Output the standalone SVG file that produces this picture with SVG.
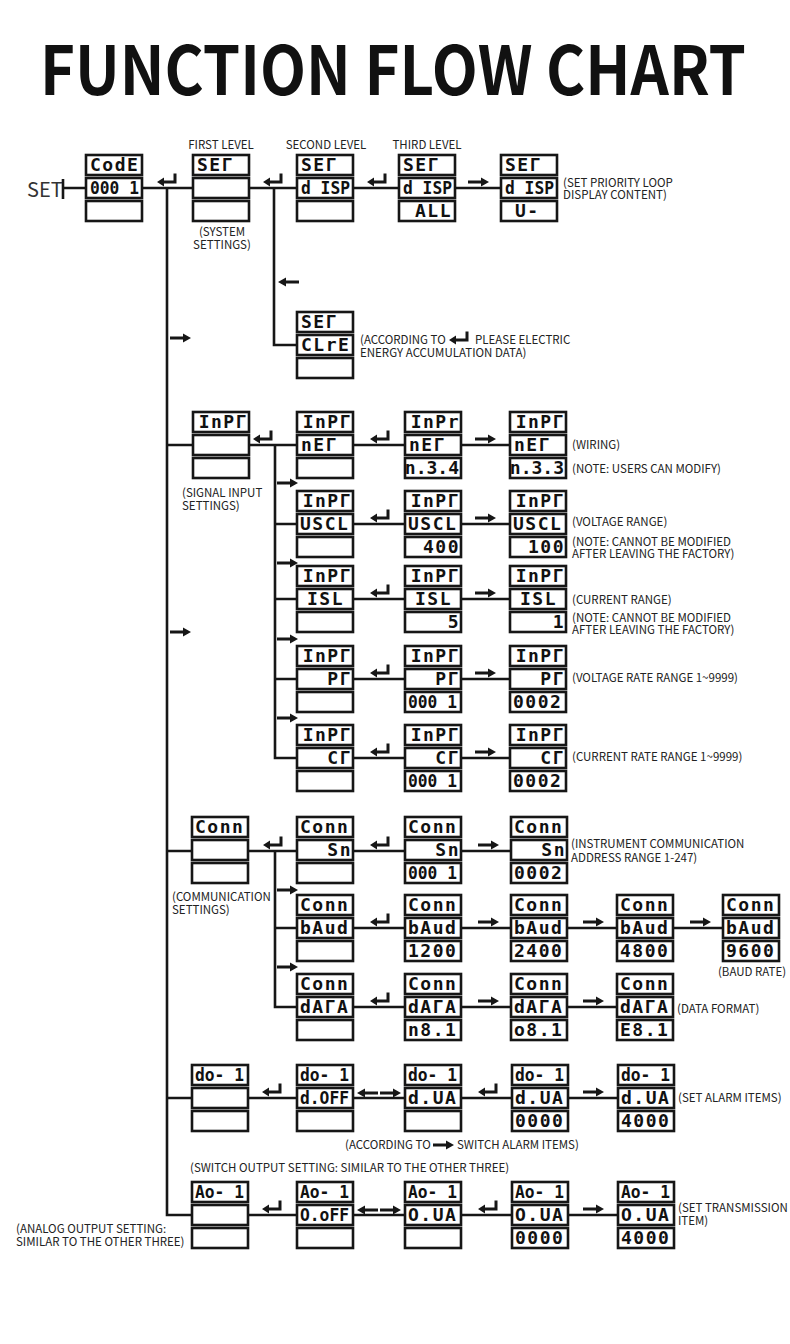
<svg xmlns="http://www.w3.org/2000/svg" xmlns:xlink="http://www.w3.org/1999/xlink" width="790" height="1344" viewBox="0 0 790 1344">
<style>
.b{fill:#fff;stroke:#161616;stroke-width:2.6}
.d{font-family:"DejaVu Sans Mono","Liberation Mono",monospace;font-weight:bold;font-size:18px;fill:#111;letter-spacing:1.5px}
.f{letter-spacing:0}
.e{text-anchor:end}
.n{font-family:"Noto Sans CJK SC","Noto Sans",sans-serif;font-size:11.5px;fill:#222}
.m{text-anchor:middle}
.ln{fill:none;stroke:#161616;stroke-width:2.6}
.ar{fill:#161616}
</style>
<defs>
<g id="nd"><rect class="b" x="0" y="0" width="56" height="20"/><rect class="b" x="0" y="23" width="56" height="20"/><rect class="b" x="0" y="46" width="56" height="20"/></g>
<path id="ent" d="M0,0 L7,-4.5 L7,-1.5 L16.5,-1.5 L16.5,-8.5 L19.5,-8.5 L19.5,1.5 L7,1.5 L7,4.5 Z"/>
<path id="ra" d="M0,-1.6 L13,-1.6 L13,-4.6 L21,0 L13,4.6 L13,1.6 L0,1.6 Z"/>
<path id="la" d="M21,-1.6 L8,-1.6 L8,-4.6 L0,0 L8,4.6 L8,1.6 L21,1.6 Z"/>
</defs>
<rect width="790" height="1344" fill="#fff"/>
<text x="40" y="95" font-family="Noto Sans CJK SC,Noto Sans,sans-serif" font-weight="bold" font-size="67" textLength="706" lengthAdjust="spacingAndGlyphs" fill="#111">FUNCTION FLOW CHART</text>

<g id="labels" class="n">
<text x="27" y="197" font-size="20" fill="#333">SET</text>
<text class="m" x="221" y="149">FIRST LEVEL</text>
<text class="m" x="326" y="149">SECOND LEVEL</text>
<text class="m" x="427" y="149">THIRD LEVEL</text>
<text class="m" x="222" y="236">(SYSTEM</text>
<text class="m" x="222" y="249">SETTINGS)</text>
<text x="563" y="187">(SET PRIORITY LOOP</text>
<text x="563" y="199">DISPLAY CONTENT)</text>
<text x="360" y="344">(ACCORDING TO</text>
<text x="475" y="344">PLEASE ELECTRIC</text>
<text x="360" y="357">ENERGY ACCUMULATION DATA)</text>
<text x="182" y="497">(SIGNAL INPUT</text>
<text x="182" y="510">SETTINGS)</text>
<text x="572" y="449">(WIRING)</text>
<text x="572" y="473">(NOTE: USERS CAN MODIFY)</text>
<text x="572" y="526">(VOLTAGE RANGE)</text>
<text x="572" y="546">(NOTE: CANNOT BE MODIFIED</text>
<text x="572" y="558">AFTER LEAVING THE FACTORY)</text>
<text x="572" y="604">(CURRENT RANGE)</text>
<text x="572" y="622">(NOTE: CANNOT BE MODIFIED</text>
<text x="572" y="634">AFTER LEAVING THE FACTORY)</text>
<text x="572" y="682">(VOLTAGE RATE RANGE 1~9999)</text>
<text x="572" y="761">(CURRENT RATE RANGE 1~9999)</text>
<text x="172" y="901">(COMMUNICATION</text>
<text x="172" y="914">SETTINGS)</text>
<text x="571" y="848">(INSTRUMENT COMMUNICATION</text>
<text x="571" y="862">ADDRESS RANGE 1-247)</text>
<text class="m" x="752" y="976">(BAUD RATE)</text>
<text x="677" y="1013">(DATA FORMAT)</text>
<text x="678" y="1102">(SET ALARM ITEMS)</text>
<text x="345" y="1149">(ACCORDING TO</text>
<text x="457" y="1149">SWITCH ALARM ITEMS)</text>
<text x="190" y="1172">(SWITCH OUTPUT SETTING: SIMILAR TO THE OTHER THREE)</text>
<text x="678" y="1212">(SET TRANSMISSION</text>
<text x="678" y="1225">ITEM)</text>
<text x="16" y="1233">(ANALOG OUTPUT SETTING:</text>
<text x="16" y="1246">SIMILAR TO THE OTHER THREE)</text>
<use href="#ent" x="449" y="340" class="ar"/>
<use href="#ra" x="433" y="1145" class="ar"/>
</g>

<g id="connectors">
<path class="ln" d="M63,179 V199 M63,188 H86 M142,188 H193 M249,188 H297 M353,188 H399 M455,188 H501"/>
<path class="ln" d="M167,188 V1215 H192 M167,445 H193 M167,851 H192 M167,1098 H192"/>
<path class="ln" d="M274,188 V345 H297"/>
<path class="ln" d="M249,445 H297 M275,445 V758 H297 M275,524 H297 M275,599 H297 M275,679 H297"/>
<path class="ln" d="M353,445 H405 M461,445 H510 M353,524 H405 M461,524 H510 M353,599 H405 M461,599 H510 M353,679 H405 M461,679 H510 M353,758 H405 M461,758 H510"/>
<path class="ln" d="M248,851 H297 M275,851 V1007 H297 M275,928 H297"/>
<path class="ln" d="M353,851 H405 M461,851 H511 M353,928 H405 M461,928 H511 M567,928 H617 M673,928 H723 M353,1007 H405 M461,1007 H511 M567,1007 H617"/>
<path class="ln" d="M248,1098 H297 M353,1098 H405 M461,1098 H512 M568,1098 H618"/>
<path class="ln" d="M248,1215 H297 M353,1215 H405 M461,1215 H512 M568,1215 H618"/>
<g class="ar">
<use href="#ent" x="157" y="182"/><use href="#ent" x="263" y="182"/><use href="#ent" x="367" y="182"/>
<use href="#ra" x="468" y="182"/>
<use href="#la" x="278" y="282"/>
<use href="#ra" x="170" y="338"/><use href="#ra" x="170" y="632"/>
<use href="#ent" x="253" y="439"/>
<use href="#ent" x="370" y="439"/><use href="#ent" x="370" y="518"/><use href="#ent" x="370" y="593"/><use href="#ent" x="370" y="673"/><use href="#ent" x="370" y="752"/>
<use href="#ra" x="475" y="439"/><use href="#ra" x="475" y="518"/><use href="#ra" x="475" y="593"/><use href="#ra" x="475" y="673"/><use href="#ra" x="475" y="752"/>
<use href="#ra" x="277" y="483"/><use href="#ra" x="277" y="563"/><use href="#ra" x="277" y="639"/><use href="#ra" x="277" y="718"/>
<use href="#ent" x="263" y="845"/>
<use href="#ent" x="370" y="845"/><use href="#ent" x="370" y="922"/><use href="#ent" x="370" y="1001"/>
<use href="#ra" x="478" y="845"/><use href="#ra" x="478" y="922"/><use href="#ra" x="478" y="1001"/>
<use href="#ra" x="583" y="922"/><use href="#ra" x="690" y="922"/><use href="#ra" x="583" y="1001"/>
<use href="#ra" x="277" y="890"/><use href="#ra" x="277" y="967"/>
<use href="#ent" x="262" y="1092"/><use href="#la" x="357" y="1093"/><use href="#ra" x="380" y="1093"/><use href="#ent" x="478" y="1092"/><use href="#ra" x="583" y="1092"/>
<use href="#ent" x="262" y="1209"/><use href="#la" x="357" y="1210"/><use href="#ra" x="380" y="1210"/><use href="#ent" x="478" y="1209"/><use href="#ra" x="583" y="1209"/>
</g>
</g>

<g id="n-code"><use href="#nd" x="86" y="155"/><text class="d" x="90" y="171">CodE</text><text class="d f" x="90" y="194" textLength="49" lengthAdjust="spacingAndGlyphs">000 1</text></g>
<g id="n-system"><use href="#nd" x="193" y="155"/><text class="d" x="197" y="171">SEГ</text></g>
<g id="n-disp2"><use href="#nd" x="297" y="155"/><text class="d" x="301" y="171">SEГ</text><text class="d f" x="301" y="194" textLength="49" lengthAdjust="spacingAndGlyphs">d ISP</text></g>
<g id="n-disp3"><use href="#nd" x="399" y="155"/><text class="d" x="403" y="171">SEГ</text><text class="d f" x="403" y="194" textLength="49" lengthAdjust="spacingAndGlyphs">d ISP</text><text class="d e" x="452" y="217">ALL</text></g>
<g id="n-disp4"><use href="#nd" x="501" y="155"/><text class="d" x="505" y="171">SEГ</text><text class="d f" x="505" y="194" textLength="49" lengthAdjust="spacingAndGlyphs">d ISP</text><text class="d" x="515" y="217">U-</text></g>
<g id="n-clre"><use href="#nd" x="297" y="312"/><text class="d" x="301" y="328">SEГ</text><text class="d" x="301" y="351">CLrE</text></g>

<g id="n-inpt"><use href="#nd" x="193" y="412"/><text class="d e" x="248" y="428">InPГ</text></g>
<g id="n-net2"><use href="#nd" x="297" y="412"/><text class="d e" x="352" y="428">InPГ</text><text class="d" x="301" y="451">nEГ</text></g>
<g id="n-net3"><use href="#nd" x="405" y="412"/><text class="d e" x="460" y="428">InPr</text><text class="d" x="409" y="451">nEГ</text><text class="d e f" x="459" y="474">n.3.4</text></g>
<g id="n-net4"><use href="#nd" x="510" y="412"/><text class="d e" x="565" y="428">InPГ</text><text class="d" x="514" y="451">nEГ</text><text class="d e f" x="564" y="474">n.3.3</text></g>
<g id="n-uscl2"><use href="#nd" x="297" y="491"/><text class="d e" x="352" y="507">InPГ</text><text class="d" x="300" y="530">USCL</text></g>
<g id="n-uscl3"><use href="#nd" x="405" y="491"/><text class="d e" x="460" y="507">InPГ</text><text class="d" x="408" y="530">USCL</text><text class="d e" x="460" y="553">400</text></g>
<g id="n-uscl4"><use href="#nd" x="510" y="491"/><text class="d e" x="565" y="507">InPГ</text><text class="d" x="513" y="530">USCL</text><text class="d e" x="565" y="553">100</text></g>
<g id="n-isl2"><use href="#nd" x="297" y="566"/><text class="d e" x="352" y="582">InPГ</text><text class="d" x="307" y="605">ISL</text></g>
<g id="n-isl3"><use href="#nd" x="405" y="566"/><text class="d e" x="460" y="582">InPГ</text><text class="d" x="415" y="605">ISL</text><text class="d e" x="460" y="628">5</text></g>
<g id="n-isl4"><use href="#nd" x="510" y="566"/><text class="d e" x="565" y="582">InPГ</text><text class="d" x="520" y="605">ISL</text><text class="d e" x="565" y="628">1</text></g>
<g id="n-pt2"><use href="#nd" x="297" y="646"/><text class="d e" x="352" y="662">InPГ</text><text class="d e" x="352" y="685">PГ</text></g>
<g id="n-pt3"><use href="#nd" x="405" y="646"/><text class="d e" x="460" y="662">InPГ</text><text class="d e" x="460" y="685">PГ</text><text class="d f" x="408" y="708" textLength="49" lengthAdjust="spacingAndGlyphs">000 1</text></g>
<g id="n-pt4"><use href="#nd" x="510" y="646"/><text class="d e" x="565" y="662">InPГ</text><text class="d e" x="565" y="685">PГ</text><text class="d" x="513" y="708">0002</text></g>
<g id="n-ct2"><use href="#nd" x="297" y="725"/><text class="d e" x="352" y="741">InPГ</text><text class="d e" x="352" y="764">CГ</text></g>
<g id="n-ct3"><use href="#nd" x="405" y="725"/><text class="d e" x="460" y="741">InPГ</text><text class="d e" x="460" y="764">CГ</text><text class="d f" x="408" y="787" textLength="49" lengthAdjust="spacingAndGlyphs">000 1</text></g>
<g id="n-ct4"><use href="#nd" x="510" y="725"/><text class="d e" x="565" y="741">InPГ</text><text class="d e" x="565" y="764">CГ</text><text class="d" x="513" y="787">0002</text></g>

<g id="n-conn"><use href="#nd" x="192" y="817"/><text class="d" x="195" y="833">Conn</text></g>
<g id="n-sn2"><use href="#nd" x="297" y="817"/><text class="d" x="300" y="833">Conn</text><text class="d e" x="352" y="856">Sn</text></g>
<g id="n-sn3"><use href="#nd" x="405" y="817"/><text class="d" x="408" y="833">Conn</text><text class="d e" x="460" y="856">Sn</text><text class="d f" x="408" y="879" textLength="49" lengthAdjust="spacingAndGlyphs">000 1</text></g>
<g id="n-sn4"><use href="#nd" x="511" y="817"/><text class="d" x="514" y="833">Conn</text><text class="d e" x="566" y="856">Sn</text><text class="d" x="514" y="879">0002</text></g>
<g id="n-baud2"><use href="#nd" x="297" y="895"/><text class="d" x="300" y="911">Conn</text><text class="d" x="300" y="934">bAud</text></g>
<g id="n-baud3"><use href="#nd" x="405" y="895"/><text class="d" x="408" y="911">Conn</text><text class="d" x="408" y="934">bAud</text><text class="d" x="408" y="957">1200</text></g>
<g id="n-baud4"><use href="#nd" x="511" y="895"/><text class="d" x="514" y="911">Conn</text><text class="d" x="514" y="934">bAud</text><text class="d" x="514" y="957">2400</text></g>
<g id="n-baud5"><use href="#nd" x="617" y="895"/><text class="d" x="620" y="911">Conn</text><text class="d" x="620" y="934">bAud</text><text class="d" x="620" y="957">4800</text></g>
<g id="n-baud6"><use href="#nd" x="723" y="895"/><text class="d" x="726" y="911">Conn</text><text class="d" x="726" y="934">bAud</text><text class="d" x="726" y="957">9600</text></g>
<g id="n-data2"><use href="#nd" x="297" y="974"/><text class="d" x="300" y="990">Conn</text><text class="d" x="300" y="1013">dAГA</text></g>
<g id="n-data3"><use href="#nd" x="405" y="974"/><text class="d" x="408" y="990">Conn</text><text class="d" x="408" y="1013">dAГA</text><text class="d" x="408" y="1036">n8.1</text></g>
<g id="n-data4"><use href="#nd" x="511" y="974"/><text class="d" x="514" y="990">Conn</text><text class="d" x="514" y="1013">dAГA</text><text class="d" x="514" y="1036">o8.1</text></g>
<g id="n-data5"><use href="#nd" x="617" y="974"/><text class="d" x="620" y="990">Conn</text><text class="d" x="620" y="1013">dAГA</text><text class="d" x="620" y="1036">E8.1</text></g>

<g id="n-do1"><use href="#nd" x="192" y="1065"/><text class="d f" x="195" y="1081" textLength="49" lengthAdjust="spacingAndGlyphs">do- 1</text></g>
<g id="n-do2"><use href="#nd" x="297" y="1065"/><text class="d f" x="300" y="1081" textLength="49" lengthAdjust="spacingAndGlyphs">do- 1</text><text class="d f" x="300" y="1104" textLength="49" lengthAdjust="spacingAndGlyphs">d.OFF</text></g>
<g id="n-do3"><use href="#nd" x="405" y="1065"/><text class="d f" x="408" y="1081" textLength="49" lengthAdjust="spacingAndGlyphs">do- 1</text><text class="d" x="408" y="1104">d.UA</text></g>
<g id="n-do4"><use href="#nd" x="512" y="1065"/><text class="d f" x="515" y="1081" textLength="49" lengthAdjust="spacingAndGlyphs">do- 1</text><text class="d" x="515" y="1104">d.UA</text><text class="d" x="515" y="1127">0000</text></g>
<g id="n-do5"><use href="#nd" x="618" y="1065"/><text class="d f" x="621" y="1081" textLength="49" lengthAdjust="spacingAndGlyphs">do- 1</text><text class="d" x="621" y="1104">d.UA</text><text class="d" x="621" y="1127">4000</text></g>

<g id="n-ao1"><use href="#nd" x="192" y="1182"/><text class="d f" x="195" y="1198" textLength="49" lengthAdjust="spacingAndGlyphs">Ao- 1</text></g>
<g id="n-ao2"><use href="#nd" x="297" y="1182"/><text class="d f" x="300" y="1198" textLength="49" lengthAdjust="spacingAndGlyphs">Ao- 1</text><text class="d f" x="300" y="1221" textLength="49" lengthAdjust="spacingAndGlyphs">O.oFF</text></g>
<g id="n-ao3"><use href="#nd" x="405" y="1182"/><text class="d f" x="408" y="1198" textLength="49" lengthAdjust="spacingAndGlyphs">Ao- 1</text><text class="d" x="408" y="1221">O.UA</text></g>
<g id="n-ao4"><use href="#nd" x="512" y="1182"/><text class="d f" x="515" y="1198" textLength="49" lengthAdjust="spacingAndGlyphs">Ao- 1</text><text class="d" x="515" y="1221">O.UA</text><text class="d" x="515" y="1244">0000</text></g>
<g id="n-ao5"><use href="#nd" x="618" y="1182"/><text class="d f" x="621" y="1198" textLength="49" lengthAdjust="spacingAndGlyphs">Ao- 1</text><text class="d" x="621" y="1221">O.UA</text><text class="d" x="621" y="1244">4000</text></g>
</svg>
